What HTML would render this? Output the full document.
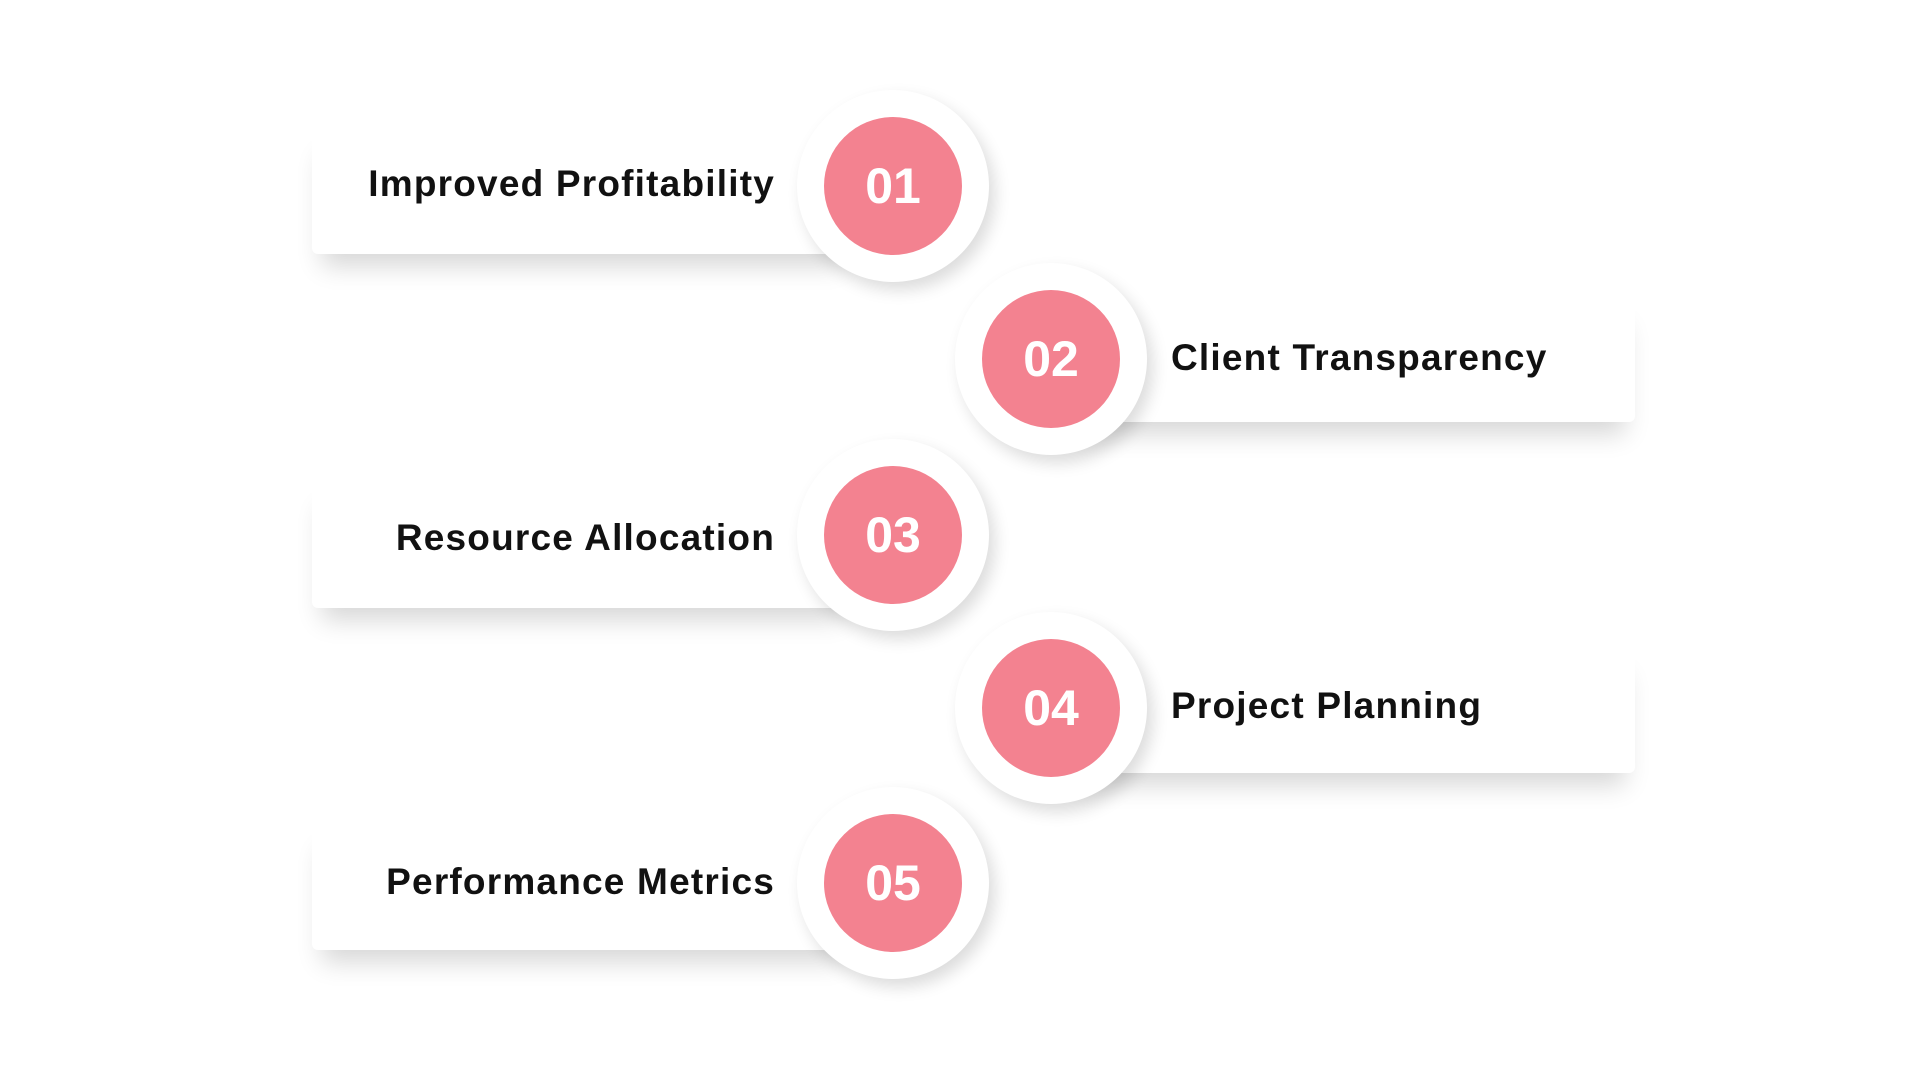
<!DOCTYPE html>
<html><head><style>
body{margin:0;width:1920px;height:1080px;background:#fff;position:relative;overflow:hidden;font-family:"Liberation Sans",sans-serif}
.card{position:absolute;background:#fff;box-shadow:0 22px 24px -10px rgba(0,0,0,0.16);border-radius:6px}
.halo{position:absolute;width:192px;height:192px;border-radius:50%;background:#fff;box-shadow:6px 8px 16px rgba(0,0,0,0.14)}
.c{position:absolute;width:138px;height:138px;border-radius:50%;background:#f38290;color:#fff;font-weight:bold;font-size:50px;display:flex;align-items:center;justify-content:center}
.t{position:absolute;font-weight:bold;font-size:37px;letter-spacing:1.2px;color:#111;line-height:40px;white-space:nowrap}
.l{text-align:right;width:500px}
</style></head><body>
<div class="card" style="left:312px;top:124px;width:540px;height:130px"></div>
<div class="card" style="left:1070px;top:294px;width:565px;height:128px"></div>
<div class="card" style="left:312px;top:476px;width:540px;height:132px"></div>
<div class="card" style="left:1070px;top:643px;width:565px;height:130px"></div>
<div class="card" style="left:312px;top:818px;width:540px;height:132px"></div>

<div class="halo" style="left:797px;top:90px"></div>
<div class="halo" style="left:955px;top:263px"></div>
<div class="halo" style="left:797px;top:439px"></div>
<div class="halo" style="left:955px;top:612px"></div>
<div class="halo" style="left:797px;top:787px"></div>

<div class="c" style="left:824px;top:117px">01</div>
<div class="c" style="left:982px;top:290px">02</div>
<div class="c" style="left:824px;top:466px">03</div>
<div class="c" style="left:982px;top:639px">04</div>
<div class="c" style="left:824px;top:814px">05</div>

<div class="t l" style="left:275px;top:164px">Improved Profitability</div>
<div class="t" style="left:1171px;top:338px">Client Transparency</div>
<div class="t l" style="left:275px;top:518px">Resource Allocation</div>
<div class="t" style="left:1171px;top:686px">Project Planning</div>
<div class="t l" style="left:275px;top:862px">Performance Metrics</div>
</body></html>
